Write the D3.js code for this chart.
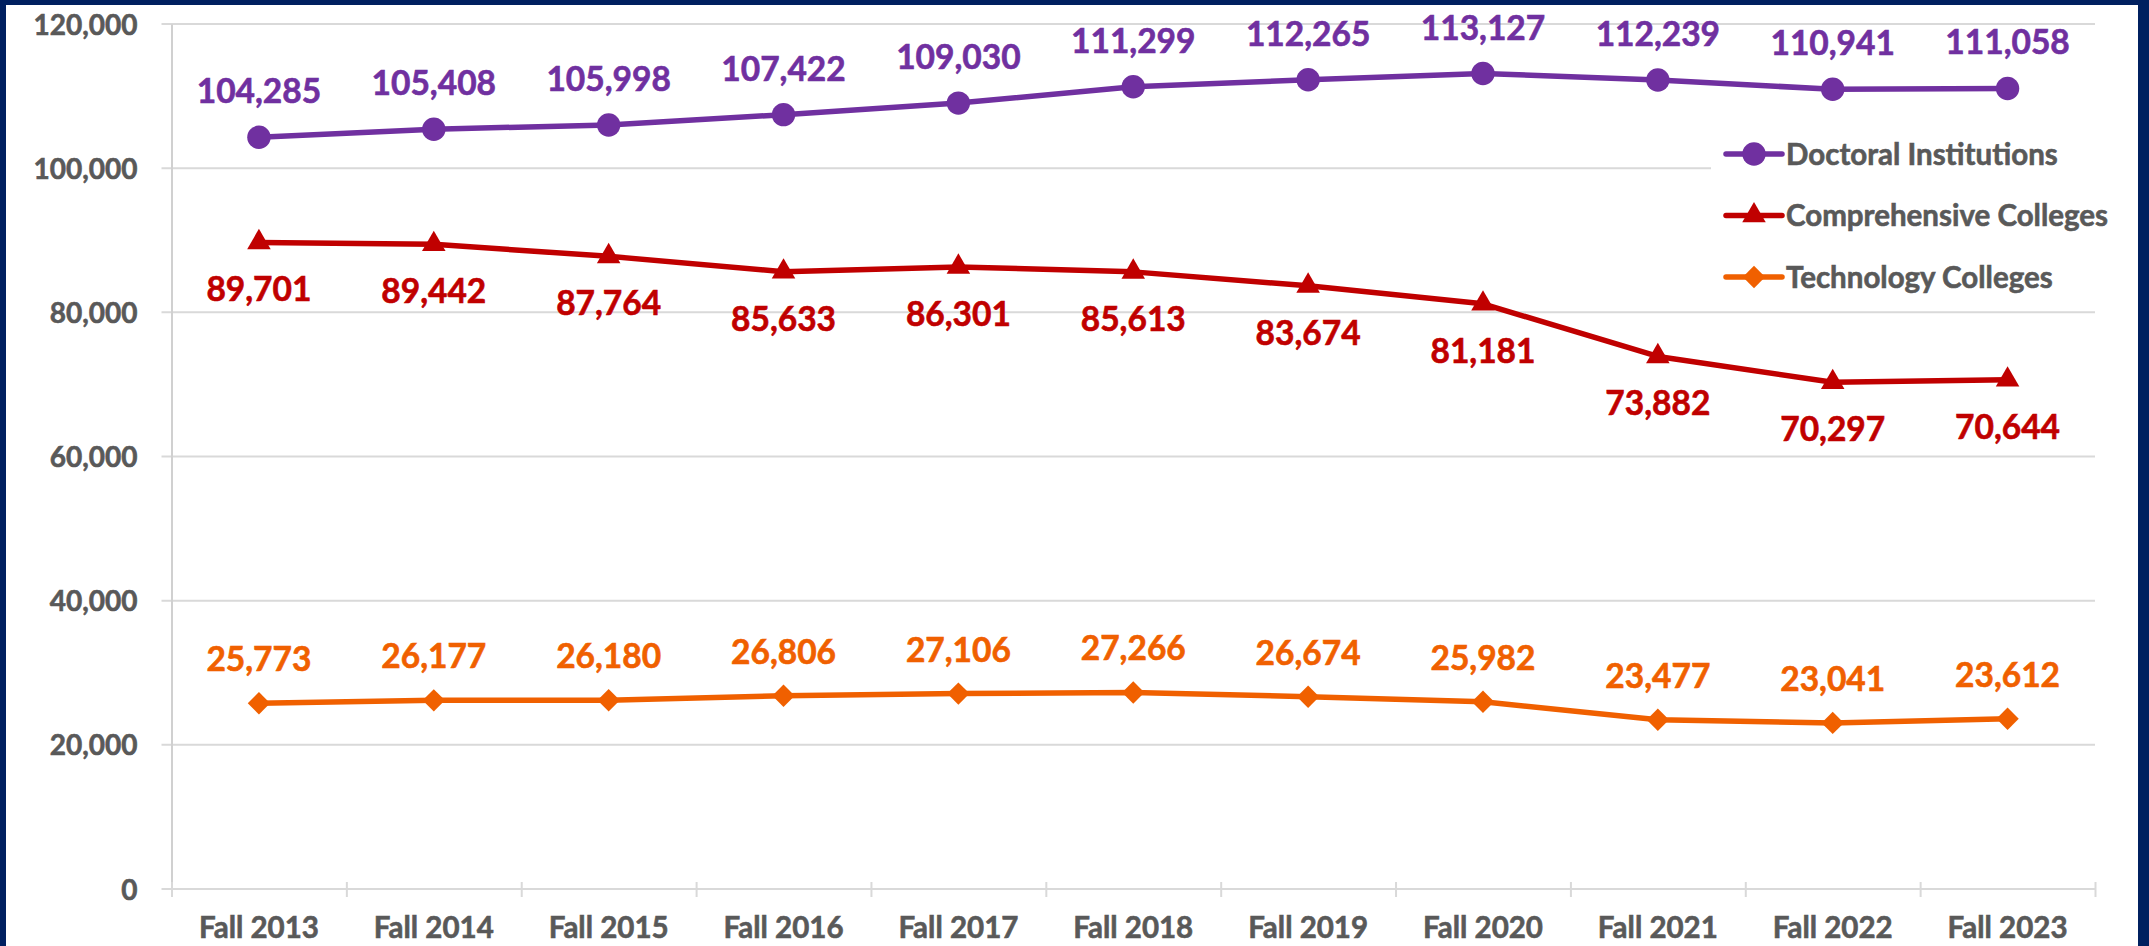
<!DOCTYPE html>
<html>
  <head>
    <script src="https://d3js.org/d3.v7.min.js"></script>
    <style>
      body { margin: 0; background: #002060; }
      svg { display: block; }
      text { font-family: Lato, "Open Sans", sans-serif; font-weight: bold; stroke-width: 0.6px; }
    </style>
  </head>
  <body>
    <div id="chart"></div>
  <script>

    // data
    var terms = ["Fall 2013", "Fall 2014", "Fall 2015", "Fall 2016", "Fall 2017", "Fall 2018",
                 "Fall 2019", "Fall 2020", "Fall 2021", "Fall 2022", "Fall 2023"]
    var doctoral = [104285, 105408, 105998, 107422, 109030, 111299, 112265, 113127, 112239, 110941, 111058]
    var comprehensive = [89701, 89442, 87764, 85633, 86301, 85613, 83674, 81181, 73882, 70297, 70644]
    var technology = [25773, 26177, 26180, 26806, 27106, 27266, 26674, 25982, 23477, 23041, 23612]
    var yTicks = [0, 20000, 40000, 60000, 80000, 100000, 120000]
    var seriesNames = ["Doctoral Institutions", "Comprehensive Colleges", "Technology Colleges"]

    var W = 2149, H = 946
    var margin = {top: 24, right: 54, bottom: 57, left: 171.5}

    var series = [
      {name: seriesNames[0], values: doctoral, color: "#7030A0", symbol: "circle", labelDy: -34},
      {name: seriesNames[1], values: comprehensive, color: "#C00000", symbol: "triangle", labelDy: 59},
      {name: seriesNames[2], values: technology, color: "#F06000", symbol: "diamond", labelDy: -32}
    ]

    var svg = d3.select("#chart")
                .append("svg")
                  .attr("width", W)
                  .attr("height", H)

    // navy frame
    svg.append("rect")
       .attr("x", 6).attr("y", 5)
       .attr("width", W - 6 - 11).attr("height", H)
       .attr("fill", "white")

    var xScale = d3.scaleBand()
                   .domain(terms)
                   .range([margin.left, W - margin.right])
    var xEdges = d3.scaleLinear()
                   .domain([0, terms.length])
                   .range([margin.left, W - margin.right])
    var yScale = d3.scaleLinear()
                   .domain([0, 120000])
                   .range([H - margin.bottom, margin.top])

    var cx = function(i) { return xScale(terms[i]) + xScale.bandwidth() / 2 }

    // gridlines
    svg.append("g")
       .selectAll("line")
       .data(yTicks)
       .enter().append("line")
         .attr("x1", margin.left - 10)
         .attr("x2", W - margin.right)
         .attr("y1", d => yScale(d))
         .attr("y2", d => yScale(d))
         .attr("stroke", "#D9D9D9")
         .attr("stroke-width", 2)

    // y axis
    var yAxis = svg.append("g")
                   .attr("transform", "translate(" + margin.left + ",0)")
                   .call(d3.axisLeft(yScale).tickValues(yTicks).tickSize(0).tickPadding(34).tickFormat(d3.format(",")))
    yAxis.select(".domain").attr("stroke", "#D0D0D0").attr("stroke-width", 2)
    yAxis.selectAll("text")
         .attr("fill", "#595959")
         .attr("stroke", "#595959")
         .style("font-size", "28px")
         .attr("dy", "0.36em")

    // x axis: ticks at category edges
    var xTickAxis = svg.append("g")
                       .attr("transform", "translate(0," + (H - margin.bottom) + ")")
                       .call(d3.axisBottom(xEdges).tickValues(d3.range(terms.length + 1)).tickSize(8).tickFormat(""))
    xTickAxis.select(".domain").remove()
    xTickAxis.selectAll("line")
             .attr("y1", -7)
             .attr("stroke", "#D9D9D9")
             .attr("stroke-width", 2)

    var xAxis = svg.append("g")
                   .attr("transform", "translate(0," + (H - margin.bottom) + ")")
                   .call(d3.axisBottom(xScale).tickSize(0))
    xAxis.select(".domain").remove()
    xAxis.selectAll("text")
         .attr("y", 49)
         .attr("dy", 0)
         .attr("fill", "#595959")
         .attr("stroke", "#595959")
         .style("font-size", "29.5px")

    function symbolPath(kind) {
      if (kind == "circle") return d3.symbol(d3.symbolCircle, 430)()
      if (kind == "triangle") return d3.symbol(d3.symbolTriangle, 240)()
      return d3.symbol(d3.symbolSquare, 250)()
    }
    function symbolRotate(kind) { return kind == "diamond" ? " rotate(45)" : "" }

    // lines, markers, labels
    series.forEach(function(s) {
      svg.append("path")
         .datum(s.values)
         .attr("fill", "none")
         .attr("stroke", s.color)
         .attr("stroke-width", 5.5)
         .attr("stroke-linejoin", "round")
         .attr("d", d3.line()
           .x(function(d, i) { return cx(i) })
           .y(function(d) { return yScale(d) })
         )

      svg.append("g")
         .selectAll("path")
         .data(s.values)
         .enter().append("path")
           .attr("d", symbolPath(s.symbol))
           .attr("transform", (d, i) => "translate(" + cx(i) + "," + yScale(d) + ")" + symbolRotate(s.symbol))
           .attr("fill", s.color)

      svg.append("g")
         .selectAll("text")
         .data(s.values)
         .enter().append("text")
           .attr("x", (d, i) => cx(i))
           .attr("y", d => yScale(d) + s.labelDy)
           .attr("text-anchor", "middle")
           .attr("fill", s.color)
           .attr("stroke", s.color)
           .style("font-size", "33.5px")
           .text(d => d3.format(",")(d))
    })

    // legend (sits on a white box over the gridline)
    var legendBox = svg.append("rect")
                       .attr("x", 1711).attr("y", 124)
                       .attr("width", W - margin.right - 1711 + 2).attr("height", 176)
                       .attr("fill", "white")

    var legend = svg.selectAll(".legend")
                    .data(series)
                    .enter().append("g")
                    .attr("class", "legend")
                    .attr("transform", (d, i) => "translate(1726," + (154 + i * 61.5) + ")")

    legend.append("line")
          .attr("x1", 0).attr("x2", 56)
          .attr("stroke", d => d.color)
          .attr("stroke-width", 5.5)
          .attr("stroke-linecap", "round")
    legend.append("path")
          .attr("d", d => symbolPath(d.symbol))
          .attr("transform", d => "translate(28,0)" + symbolRotate(d.symbol))
          .attr("fill", d => d.color)
    legend.append("text")
          .attr("x", 60)
          .attr("dy", "0.36em")
          .attr("fill", "#595959")
          .attr("stroke", "#595959")
          .style("font-size", "29.5px")
          .text(d => d.name)

  </script>
  </body>
</html>
